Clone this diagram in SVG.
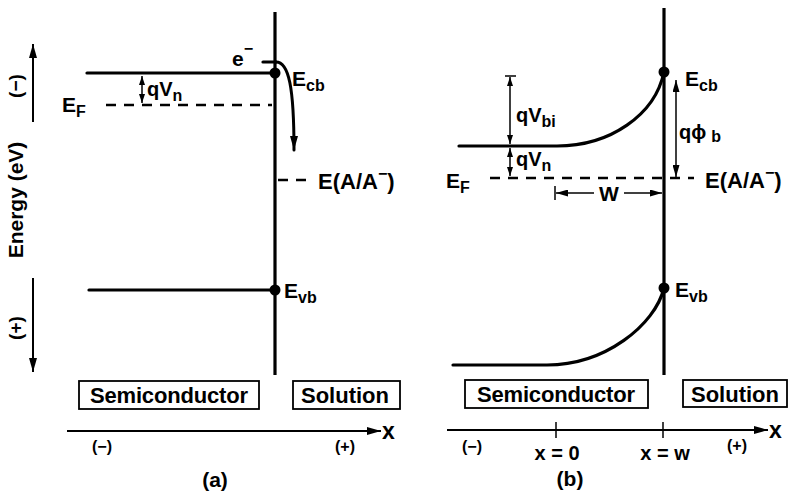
<svg xmlns="http://www.w3.org/2000/svg" width="788" height="491" viewBox="0 0 788 491">
<defs>
<style>
text{font-family:"Liberation Sans",Arial,sans-serif;font-weight:bold;fill:#000}
.band{fill:none;stroke:#000;stroke-width:3.2;stroke-linecap:round}
.iface{stroke:#000;stroke-width:3.2}
.dash{stroke:#000;stroke-width:2.6;stroke-dasharray:10 8}
.axis{stroke:#000;stroke-width:2;fill:none}
.thin{stroke:#000;stroke-width:1.5;fill:none}
.box{fill:#fff;stroke:#000;stroke-width:1.8}
.lbl{font-size:21px}
.sub{font-size:16px}
.boxt{font-size:22px}
.sm{font-size:16px}
</style>
<marker id="big" viewBox="0 0 14 8" refX="14" refY="4" markerWidth="14" markerHeight="8" markerUnits="userSpaceOnUse" orient="auto-start-reverse"><path d="M0,0 L14,4 L0,8 z" fill="#000"/></marker>
<marker id="sm" viewBox="0 0 9 6" refX="9" refY="3" markerWidth="9" markerHeight="6" markerUnits="userSpaceOnUse" orient="auto-start-reverse"><path d="M0,0 L9,3 L0,6 z" fill="#000"/></marker>
<marker id="md" viewBox="0 0 12 7" refX="12" refY="3.5" markerWidth="12" markerHeight="7" markerUnits="userSpaceOnUse" orient="auto-start-reverse"><path d="M0,0 L12,3.5 L0,7 z" fill="#000"/></marker>
</defs>

<g id="connectors">
<line class="axis" x1="33" y1="122" x2="33" y2="44" marker-end="url(#big)"/>
<line class="axis" x1="33" y1="278" x2="33" y2="372" marker-end="url(#big)"/>
<line class="thin" x1="142" y1="76" x2="142" y2="103" marker-start="url(#sm)" marker-end="url(#sm)"/>
<line class="band" x1="263" y1="62" x2="276" y2="62"/>
<path class="band" d="M276,62 C289,62 294,88 294,150" style="stroke-width:3" marker-end="url(#big)"/>
<line class="axis" x1="67" y1="431" x2="381" y2="431" marker-end="url(#big)"/>
<line class="thin" x1="505" y1="76" x2="516" y2="76"/>
<line class="thin" x1="510" y1="77" x2="510" y2="144" marker-start="url(#sm)" marker-end="url(#sm)"/>
<line class="thin" x1="510" y1="148" x2="510" y2="176" marker-start="url(#sm)" marker-end="url(#sm)"/>
<line class="thin" x1="676" y1="80" x2="676" y2="177" marker-start="url(#md)" marker-end="url(#md)"/>
<line class="thin" x1="555" y1="186" x2="555" y2="200"/>
<line class="thin" x1="594" y1="193" x2="556" y2="193" marker-end="url(#md)"/>
<line class="thin" x1="624" y1="193" x2="662" y2="193" marker-end="url(#md)"/>
<line class="axis" x1="447" y1="430" x2="768" y2="430" marker-end="url(#big)"/>
<line class="thin" x1="556" y1="422" x2="556" y2="438"/>
<line class="thin" x1="663" y1="422" x2="663" y2="438"/>
</g>

<g id="energy-axis">
<text transform="translate(22,86) rotate(-90)" text-anchor="middle" style="font-size:19px">(−)</text>
<text transform="translate(23,200) rotate(-90)" text-anchor="middle" style="font-size:21px">Energy (eV)</text>
<text transform="translate(22,328) rotate(-90)" text-anchor="middle" style="font-size:19px">(+)</text>
</g>

<g id="panel-a-interface"><line class="iface" x1="275" y1="12" x2="275" y2="375"/></g>

<g id="panel-a-ecb">
<line class="band" x1="87" y1="73" x2="275" y2="73"/>
<circle cx="275" cy="73" r="5.5"/>
<text class="lbl" x="292" y="86">E<tspan class="sub" dy="5">cb</tspan></text>
</g>
<g id="panel-a-electron"><text class="lbl" x="232" y="66">e<tspan class="sub" dy="-12">−</tspan></text></g>
<g id="panel-a-qvn"><text class="lbl" x="147" y="96" style="font-size:20px">qV<tspan class="sub" dy="5">n</tspan></text></g>
<g id="panel-a-ef">
<line class="dash" x1="106" y1="105" x2="272" y2="105"/>
<text class="lbl" x="62" y="112">E<tspan class="sub" dy="5">F</tspan></text>
</g>
<g id="panel-a-redox">
<line class="dash" x1="278" y1="180" x2="314" y2="180"/>
<text class="lbl" x="318" y="189" style="font-size:22px">E(A/A<tspan class="sub" dy="-10">−</tspan><tspan dy="10">)</tspan></text>
</g>
<g id="panel-a-evb">
<line class="band" x1="89" y1="290" x2="275" y2="290"/>
<circle cx="275" cy="290" r="5.5"/>
<text class="lbl" x="284" y="298">E<tspan class="sub" dy="5">vb</tspan></text>
</g>
<g id="panel-a-semiconductor">
<rect class="box" x="79" y="381" width="180" height="28"/>
<text class="boxt" x="169" y="403" text-anchor="middle" textLength="158">Semiconductor</text>
</g>
<g id="panel-a-solution">
<rect class="box" x="293" y="381" width="107" height="28"/>
<text class="boxt" x="345" y="403" text-anchor="middle" textLength="88">Solution</text>
</g>
<g id="panel-a-axis-labels">
<text x="382" y="439" style="font-size:23px">x</text>
<text class="sm" x="102" y="452" text-anchor="middle">(−)</text>
<text class="sm" x="345" y="452" text-anchor="middle">(+)</text>
<text x="215" y="487" text-anchor="middle" style="font-size:21px">(a)</text>
</g>

<g id="panel-b-interface"><line class="iface" x1="664" y1="8" x2="664" y2="375"/></g>
<g id="panel-b-ecb">
<path class="band" d="M459,146 L557,146 C610,146 655,115 664,72"/>
<circle cx="664" cy="72" r="5.5"/>
<text class="lbl" x="685" y="86">E<tspan class="sub" dy="5">cb</tspan></text>
</g>
<g id="panel-b-qvbi"><text class="lbl" x="516" y="122" style="font-size:20px">qV<tspan class="sub" dy="5">bi</tspan></text></g>
<g id="panel-b-qvn"><text class="lbl" x="516" y="166" style="font-size:20px">qV<tspan class="sub" dy="5">n</tspan></text></g>
<g id="panel-b-qphib"><text class="lbl" x="679" y="139" style="font-size:20px">qϕ<tspan class="sub" dx="5" dy="3">b</tspan></text></g>
<g id="panel-b-ef">
<line class="dash" x1="490" y1="178" x2="694" y2="178"/>
<text class="lbl" x="446" y="188">E<tspan class="sub" dy="5">F</tspan></text>
<text class="lbl" x="705" y="188" style="font-size:22px">E(A/A<tspan class="sub" dy="-10">−</tspan><tspan dy="10">)</tspan></text>
</g>
<g id="panel-b-w"><text class="lbl" x="609" y="201" text-anchor="middle">W</text></g>
<g id="panel-b-evb">
<path class="band" d="M453,365 L547,365 C605,365 655,325 664,288"/>
<circle cx="664" cy="288" r="5.5"/>
<text class="lbl" x="675" y="297">E<tspan class="sub" dy="5">vb</tspan></text>
</g>
<g id="panel-b-semiconductor">
<rect class="box" x="465" y="380" width="183" height="28"/>
<text class="boxt" x="556" y="402" text-anchor="middle" textLength="158">Semiconductor</text>
</g>
<g id="panel-b-solution">
<rect class="box" x="683" y="380" width="104" height="27"/>
<text class="boxt" x="735" y="402" text-anchor="middle" textLength="88">Solution</text>
</g>
<g id="panel-b-axis-labels">
<text x="769" y="438" style="font-size:23px">x</text>
<text class="sm" x="472" y="452" text-anchor="middle">(−)</text>
<text class="lbl" x="557" y="460" text-anchor="middle" style="font-size:20px">x = 0</text>
<text class="lbl" x="665" y="460" text-anchor="middle" style="font-size:20px">x = w</text>
<text class="sm" x="737" y="451" text-anchor="middle">(+)</text>
<text x="570" y="486" text-anchor="middle" style="font-size:21px">(b)</text>
</g>
</svg>
